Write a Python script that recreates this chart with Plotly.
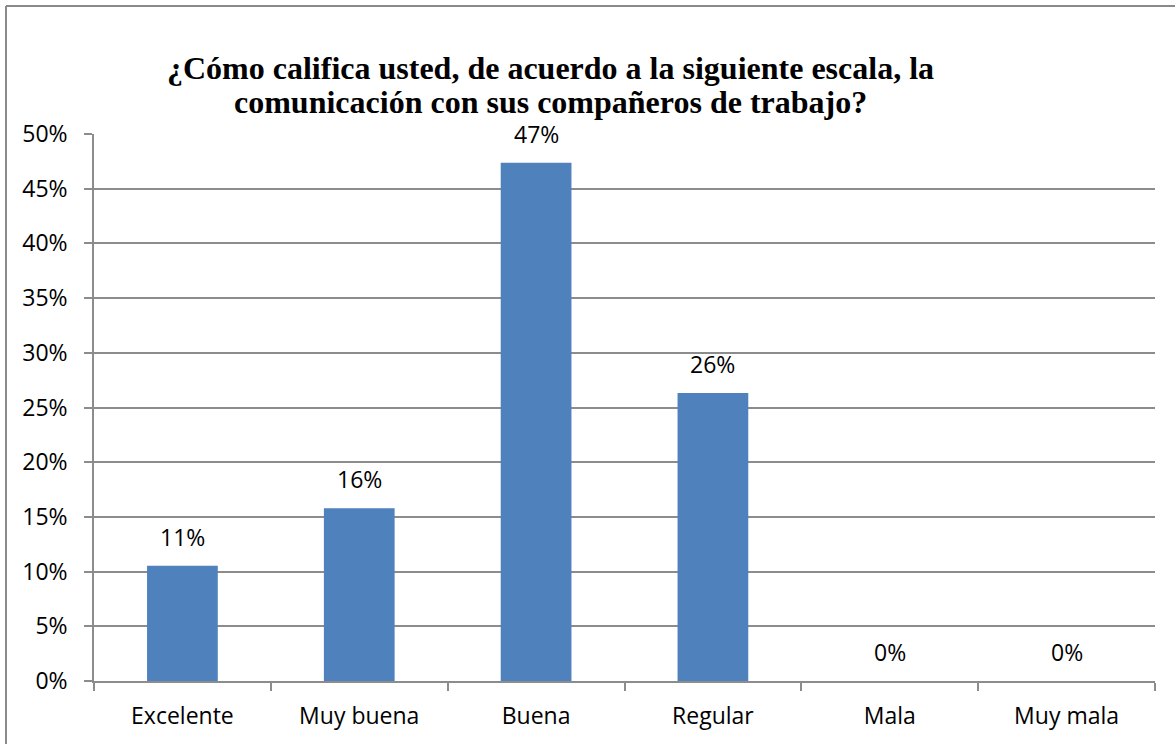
import plotly.graph_objects as go

categories = ["Excelente", "Muy buena", "Buena", "Regular", "Mala", "Muy mala"]
values = [0.1053, 0.1579, 0.4737, 0.2632, 0.0, 0.0]
labels = ["11%", "16%", "47%", "26%", "0%", "0%"]
y_ticks = [0, 0.05, 0.10, 0.15, 0.20, 0.25, 0.30, 0.35, 0.40, 0.45, 0.50]
y_tick_text = ["0%", "5%", "10%", "15%", "20%", "25%", "30%", "35%", "40%", "45%", "50%"]
title_lines = ["¿Cómo califica usted, de acuerdo a la siguiente escala, la",
               "comunicación con sus compañeros de trabajo?"]

LABEL_FONT = dict(family="Open Sans, Calibri, sans-serif", size=23, color="#000000")
TITLE_FONT = dict(family="Liberation Serif, Times New Roman, serif", size=32, color="#000000")
GRID = "#8c8c8c"

fig = go.Figure()
fig.add_trace(go.Bar(x=categories, y=values, marker=dict(color="#4F81BD", line=dict(width=0)),
                     hoverinfo="skip"))

for c, v, t in zip(categories, values, labels):
    fig.add_annotation(x=c, y=v, text=t, showarrow=False, yanchor="bottom",
                       yshift=11, font=LABEL_FONT)

for i, line in enumerate(title_lines):
    fig.add_annotation(xref="paper", yref="paper", x=(550 - 94) / 1061,
                       y=(681 - (68 + 34 * i)) / 547,
                       text="<b>" + line + "</b>", showarrow=False, xanchor="center",
                       yanchor="middle", font=TITLE_FONT)

# outer chart border (only top and left visible in frame)
bx = (6 - 94) / 1061
by = (681 - 6) / 547
fig.add_shape(type="line", xref="paper", yref="paper", x0=bx, x1=1.2, y0=by, y1=by,
              line=dict(color="#8a8a8a", width=2))
fig.add_shape(type="line", xref="paper", yref="paper", x0=bx, x1=bx, y0=by, y1=-0.3,
              line=dict(color="#8a8a8a", width=2))

fig.update_layout(
    width=1175, height=744,
    margin=dict(l=94, r=20, t=134, b=63),
    paper_bgcolor="white", plot_bgcolor="white",
    showlegend=False, bargap=0.6,
    font=LABEL_FONT,
)
fig.update_xaxes(showline=True, linecolor=GRID, linewidth=1.5, ticks="outside",
                 tickson="boundaries", ticklen=8, tickcolor=GRID, tickwidth=1.5,
                 showgrid=False, tickfont=LABEL_FONT, ticklabelstandoff=14)
fig.update_yaxes(range=[0, 0.5], tickvals=y_ticks, ticktext=y_tick_text,
                 showline=True, linecolor=GRID, linewidth=1.5, ticks="outside",
                 ticklen=8, tickcolor=GRID, tickwidth=1.5,
                 showgrid=True, gridcolor=GRID, gridwidth=1.5, zeroline=False,
                 tickfont=LABEL_FONT, ticklabelstandoff=12)

fig.write_html("out.html", config={"displayModeBar": False},
               post_script="document.body.style.margin='0';document.body.style.overflow='hidden';")
